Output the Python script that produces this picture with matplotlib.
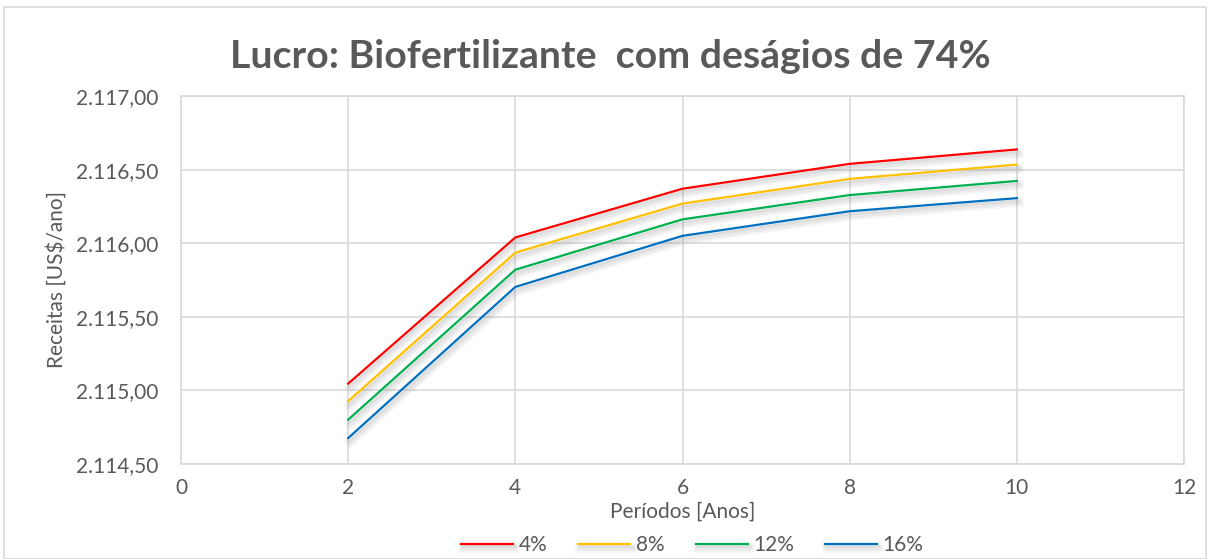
import matplotlib
matplotlib.use("Agg")
import matplotlib.pyplot as plt
import matplotlib.patheffects as pe
from matplotlib.patches import Rectangle
from matplotlib.ticker import FuncFormatter

plt.rcParams['font.family'] = ['Lato', 'DejaVu Sans']

# data
periodos = [2, 4, 6, 8, 10]
series_names = ['4%', '8%', '12%', '16%']
lucro_4 = [2115.046, 2116.039, 2116.370, 2116.539, 2116.637]
lucro_8 = [2114.927, 2115.936, 2116.269, 2116.437, 2116.534]
lucro_12 = [2114.801, 2115.820, 2116.162, 2116.327, 2116.423]
lucro_16 = [2114.676, 2115.703, 2116.050, 2116.217, 2116.306]
cores = ['#FF0000', '#FFC000', '#00B050', '#0070C0']

txt = '#595959'
grid = '#D9D9D9'

fig = plt.figure(figsize=(12.1, 5.59), dpi=100)
ax = fig.add_axes([181 / 1210, 1 - 464 / 559, (1184 - 181) / 1210, (464 - 96) / 559])

# chart border
fig.patches.append(Rectangle((4 / 1210, 0), 1 - 8 / 1210, 1 - 7 / 559,
                             transform=fig.transFigure, fill=False,
                             edgecolor=grid, linewidth=1.2))

# soft drop shadow
shadow = [pe.SimpleLineShadow(offset=(1.5, -3), shadow_color='#808080', alpha=0.07, linewidth=7),
          pe.SimpleLineShadow(offset=(1.5, -3), shadow_color='#808080', alpha=0.1, linewidth=4),
          pe.SimpleLineShadow(offset=(1, -2), shadow_color='#808080', alpha=0.1, linewidth=2),
          pe.Normal()]
for nome, ys, c in zip(series_names, [lucro_4, lucro_8, lucro_12, lucro_16], cores):
    ax.plot(periodos, ys, color=c, linewidth=1.6, label=nome, path_effects=shadow)

ax.set_xlim(0, 12)
ax.set_ylim(2114.5, 2117.0)
ax.set_xticks(range(0, 13, 2))
ax.set_yticks([2114.5, 2115.0, 2115.5, 2116.0, 2116.5, 2117.0])


def br_fmt(v, pos):
    s = f"{v:,.2f}"
    return s.replace(',', 'X').replace('.', ',').replace('X', '.')


ax.yaxis.set_major_formatter(FuncFormatter(br_fmt))
ax.grid(True, color=grid, linewidth=1.2)
ax.set_axisbelow(True)
for sp in ax.spines.values():
    sp.set_color(grid)
    sp.set_linewidth(1.2)
ax.tick_params(axis='y', length=0, labelsize=15, colors=txt, pad=16)
ax.tick_params(axis='x', length=0, labelsize=15, colors=txt, pad=10)

ax.set_xlabel('Períodos [Anos]', fontsize=15, color=txt, labelpad=3)
ax.set_ylabel('Receitas [US$/ano]', fontsize=15, color=txt, labelpad=7)

fig.text(0.504, 1 - 57 / 559, 'Lucro: Biofertilizante  com deságios de 74%',
         ha='center', va='center', fontsize=28.3, fontweight='bold', color=txt)

leg = fig.legend(loc='center', bbox_to_anchor=(0.572, 1 - 545 / 559), ncol=4,
                 frameon=False, fontsize=15, handlelength=2.5, columnspacing=1.5,
                 handletextpad=0.25, borderaxespad=0)
for t in leg.get_texts():
    t.set_color(txt)

fig.savefig('out.png', dpi=100)
